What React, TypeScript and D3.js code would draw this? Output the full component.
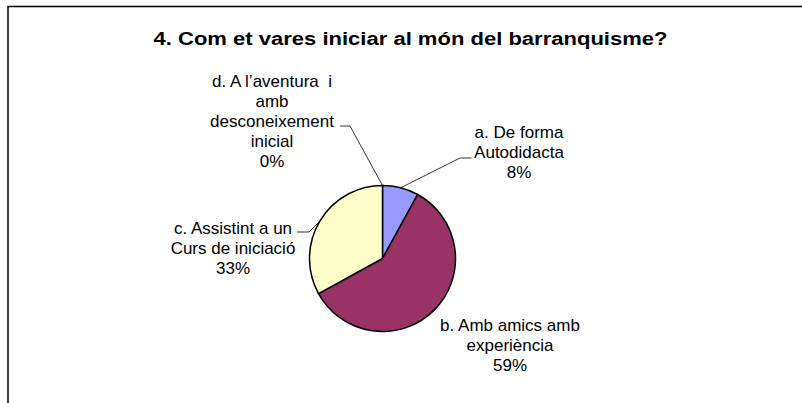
import React from "react";
import * as d3 from "d3";

const title = "4. Com et vares iniciar al món del barranquisme?";
const categories = [
  ["a. De forma", "Autodidacta"],
  ["b. Amb amics amb", "experiència"],
  ["c. Assistint a un", "Curs de iniciació"],
  ["d. A l’aventura  i", "amb", "desconeixement", "inicial"],
];
const values = [8, 59, 33, 0];
const percentLabels = ["8%", "59%", "33%", "0%"];
const colors = ["#9999FF", "#993366", "#FFFFCC", "#FFFFFF"];

// layout (label placement relative to chart, Excel-style manual positions)
const W = 802;
const H = 403;
const cx = 382.5;
const cy = 258.5;
const R = 73;
const labelLayout = [
  { x: 519, y: 132, leader: [[471.5, 158], [460, 158]] },
  { x: 510, y: 325, leader: null },
  { x: 233, y: 228, leader: [[297, 232], [309, 232]] },
  { x: 272, y: 81, leader: [[340, 126], [350, 126]] },
];
const lineH = 20;
const FONT = "'Liberation Sans', Arial, sans-serif";

export default function App() {
  const pie = d3.pie<number>().sort(null).value((d) => d)(values);
  const arc = d3.arc<d3.PieArcDatum<number>>().innerRadius(0).outerRadius(R);
  const edgeArc = d3.arc<d3.PieArcDatum<number>>().innerRadius(R).outerRadius(R);

  return (
    <svg
      width={W}
      height={H}
      style={{ position: "absolute", left: 0, top: 0, background: "#fff" }}
    >
      <rect x={0} y={0} width={W} height={H} fill="#fff" />
      <path d={`M8,${H} L8,6.5 L${W},6.5`} fill="none" stroke="#000" strokeWidth={1.5} />
      <text
        x={153.5}
        y={45}
        textAnchor="start"
        fontFamily={FONT}
        fontWeight="bold"
        fontSize={18}
        textLength={514}
        lengthAdjust="spacingAndGlyphs"
        fill="#000"
      >
        {title}
      </text>
      <g transform={`translate(${cx},${cy})`}>
        {pie.map((p, i) =>
          p.endAngle - p.startAngle > 0 ? (
            <path key={i} d={arc(p) || ""} fill={colors[i]} stroke="#000" strokeWidth={1.5} />
          ) : null
        )}
      </g>
      {pie.map((p, i) => {
        const L = labelLayout[i];
        if (!L.leader) return null;
        const [ex, ey] = edgeArc.centroid(p);
        const pts = [...L.leader, [cx + ex, cy + ey]];
        return (
          <polyline
            key={"l" + i}
            points={pts.map((q) => q.join(",")).join(" ")}
            fill="none"
            stroke="#000"
            strokeWidth={0.8}
          />
        );
      })}
      {categories.map((lines, i) => {
        const L = labelLayout[i];
        const all = [...lines, percentLabels[i]];
        return (
          <text
            key={"t" + i}
            textAnchor="middle"
            fontFamily={FONT}
            fontSize={17}
            fill="#000"
            style={{ whiteSpace: "pre" }}
          >
            {all.map((s, k) => (
              <tspan key={k} x={L.x} y={L.y + 6 + k * lineH}>
                {s}
              </tspan>
            ))}
          </text>
        );
      })}
    </svg>
  );
}
